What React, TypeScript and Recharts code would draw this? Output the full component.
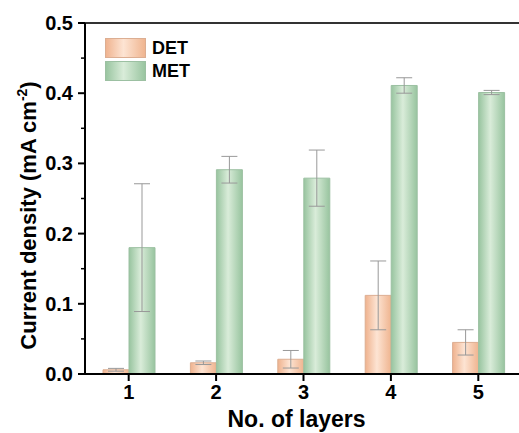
import { BarChart, Bar, XAxis, YAxis, Legend, ErrorBar, ReferenceLine, Label } from 'recharts';

const layers = ['1', '2', '3', '4', '5'];
const det = [0.006, 0.016, 0.021, 0.112, 0.045];
const detErr = [0.002, 0.0025, 0.0125, 0.049, 0.018];
const met = [0.18, 0.291, 0.279, 0.411, 0.401];
const metErr = [0.091, 0.019, 0.04, 0.011, 0.003];
const yTicks = [0, 0.05, 0.1, 0.15, 0.2, 0.25, 0.3, 0.35, 0.4, 0.45, 0.5];
const seriesNames = ['DET', 'MET'];

const data = layers.map((layer, i) => ({
  layer,
  det: det[i],
  detErr: detErr[i],
  met: met[i],
  metErr: metErr[i],
}));

const FONT = '"Liberation Sans", Arial, sans-serif';

// y tick: major ticks labelled, minor ticks short and unlabelled
function YTick(props: any) {
  const { x, y, payload, index } = props;
  const axisX = x + 12;
  const major = index % 2 === 0;
  return (
    <g>
      <line x1={axisX} x2={axisX - (major ? 7 : 4)} y1={y} y2={y} stroke="#000" strokeWidth={major ? 2 : 1.5} />
      {major && (
        <text x={x} y={y} dy={7} textAnchor="end" fontSize={20} fontWeight="bold" fill="#000" fontFamily={FONT}>
          {payload.value.toFixed(1)}
        </text>
      )}
    </g>
  );
}

function YTitle(props: any) {
  const { viewBox } = props;
  const cy = viewBox.y + viewBox.height / 2 + 17;
  return (
    <text
      x={36}
      y={cy}
      transform={`rotate(-90, 36, ${cy})`}
      textAnchor="middle"
      fontSize={22}
      fontWeight="bold"
      fill="#000"
      fontFamily={FONT}
    >
      Current density (mA cm
      <tspan fontSize={14} dy={-9}>-2</tspan>
      <tspan dy={9}>)</tspan>
    </text>
  );
}

function XTitle(props: any) {
  const { viewBox } = props;
  const cx = viewBox.x + viewBox.width / 2 - 7;
  return (
    <text x={cx} y={427} textAnchor="middle" fontSize={23} fontWeight="bold" fill="#000" fontFamily={FONT}>
      No. of layers
    </text>
  );
}

function LegendBox() {
  const fills = ['url(#detGrad)', 'url(#metGrad)'];
  const strokes = ['#dcae92', '#9cc0a2'];
  return (
    <svg width={120} height={46}>
      {seriesNames.map((name, i) => (
        <g key={name}>
          <rect x={0.5} y={i * 23 + 0.5} width={40} height={19} fill={fills[i]} stroke={strokes[i]} />
          <text x={47} y={i * 23 + 16} fontSize={18} fontWeight="bold" fill="#000" fontFamily={FONT}>
            {name}
          </text>
        </g>
      ))}
    </svg>
  );
}

export default function App() {
  return (
    <div style={{ position: 'absolute', left: 0, top: 0, fontFamily: FONT, background: '#fff' }}>
      <BarChart
        width={519}
        height={433}
        data={data}
        margin={{ top: 23, right: -3, left: 0, bottom: 0 }}
        barGap={0}
        barSize={26}
      >
        <defs>
          <linearGradient id="detGrad" x1="0" y1="0" x2="1" y2="0">
            <stop offset="0%" stopColor="#efb28e" />
            <stop offset="45%" stopColor="#fde4d3" />
            <stop offset="100%" stopColor="#efb48f" />
          </linearGradient>
          <linearGradient id="metGrad" x1="0" y1="0" x2="1" y2="0">
            <stop offset="0%" stopColor="#98c49f" />
            <stop offset="45%" stopColor="#d9ecd9" />
            <stop offset="100%" stopColor="#98c49f" />
          </linearGradient>
        </defs>
        <XAxis
          dataKey="layer"
          height={59}
          axisLine={{ stroke: '#000', strokeWidth: 2 }}
          tickLine={{ stroke: '#000', strokeWidth: 2 }}
          tickSize={7}
          tickMargin={4}
          tick={{ fontSize: 20, fontWeight: 'bold', fill: '#000', fontFamily: FONT }}
        >
          <Label content={<XTitle />} />
        </XAxis>
        <YAxis
          width={85}
          domain={[0, 0.5]}
          ticks={yTicks}
          interval={0}
          axisLine={{ stroke: '#000', strokeWidth: 2 }}
          tickLine={false}
          tickSize={7}
          tickMargin={5}
          tick={<YTick />}
        >
          <Label content={<YTitle />} />
        </YAxis>
        <ReferenceLine y={0.5} stroke="#333" strokeWidth={2} />
        <Legend
          layout="vertical"
          align="center"
          verticalAlign="middle"
          content={<LegendBox />}
          wrapperStyle={{ left: 105, top: 38, width: 120, height: 46 }}
        />
        <Bar dataKey="det" name="DET" fill="url(#detGrad)" stroke="#dcae92" strokeWidth={1} isAnimationActive={false}>
          <ErrorBar dataKey="detErr" width={8} stroke="#999" strokeWidth={1} />
        </Bar>
        <Bar dataKey="met" name="MET" fill="url(#metGrad)" stroke="#9cc0a2" strokeWidth={1} isAnimationActive={false}>
          <ErrorBar dataKey="metErr" width={8} stroke="#999" strokeWidth={1} />
        </Bar>
      </BarChart>
    </div>
  );
}
